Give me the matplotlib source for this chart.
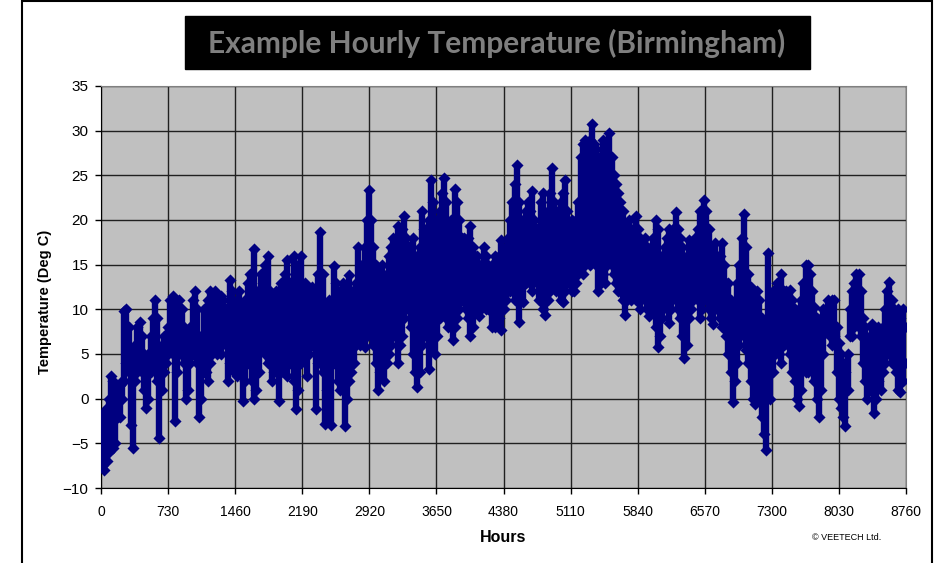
import numpy as np
import matplotlib
matplotlib.use("Agg")
import matplotlib.pyplot as plt
from matplotlib.patches import Rectangle

# daily low / high temperatures (deg C), day 0 .. 364
day_low = [
    -7.5, -8, -7, -6, -3, -5.5, -5, -2, -2, 0,
    2, 4, 3, -3, -5.5, 2, 3, 4, 3, 1,
    -1, 0, 3, 4, 5, 2, -4.4, 1, 3, 4,
    5, 6, 5, -2.5, 3, 5, 6, 4, 0, 1,
    4, 5, 6, 4, -2, 0, 3, 3, 2, 4,
    5, 6, 5, 6, 5, 7, 6, 2, 4, 6,
    3, 2.5, 5, 3, -0.3, 2, 4, 6, 2, 0,
    1, 3, 6, 7, 5, 4, 6, 2, 3, 5,
    -0.3, 3, 6, 5, 2.5, 4, 7, 2, -1.2, 1,
    4, 6, 5, 2.5, 5, 6, 7, -1.2, 4, 5,
    3, -2.8, 1, 2, -3, 4, 5, 2, 1, 3,
    -3.1, 0, 2, 3, 4, 6, 7, 6, 8, 5.8,
    7, 9, 8, 6, 4, 1, 3, 5, 2, 4,
    5, 6, 7, 8, 4, 6, 7, 9, 10, 10,
    8, 5, 3, 1.3, 3, 6, 8, 7, 3.3, 6,
    8, 5, 7, 9, 10, 11, 9, 8, 9, 6.6,
    8, 9, 10, 11, 12, 10, 9, 7, 8, 10,
    10, 9.2, 10, 11, 10, 10, 10, 8, 8, 9,
    9, 7.7, 10, 11, 12, 12, 13, 11, 12, 8.6,
    11, 10.8, 13, 14, 13, 12, 14, 13, 11, 12,
    10, 9.4, 11, 12, 14, 13, 12, 13, 11, 10.8,
    12, 13, 14, 12, 12, 13, 14, 15, 14, 15,
    16, 15, 17, 16, 15, 12, 13, 14, 13, 15,
    16, 15, 14, 13, 12, 12, 11, 9.4, 11, 12,
    11, 12, 11, 12, 10, 12, 11, 10, 9.2, 11,
    10, 8, 5.8, 7, 9, 11, 10, 8.5, 10, 12,
    11, 10, 9, 7, 4.5, 6, 9, 10, 11, 12,
    11, 9, 10, 12, 11, 10, 9, 8.4, 10, 11,
    9, 8, 10, 7, 5, 3, -0.4, 2, 4, 6,
    8, 7, 5.4, 4, 2, 0, -0.6, 1, 0, -2,
    -4, -5.7, 3, 0, 3, 5, 6, 5, 4, 6,
    7, 6, 5, 3, 2, 0, -0.8, 1, 5, 3,
    3, 5, 4, 2, 0, -2, 1, 5, 7.5, 8,
    7, 6, 7, 3, 0, -1, -2, -3.1, 1, 7,
    7, 8, 9, 8, 7, 4, 2, 0, 1, 3,
    -1.6, 0, 2, 1, 3, 4, 5, 6, 4, 5,
    3, 1, 0.8, 2, 4,
]
day_high = [
    -2, -1.5, -1, 0, 2.5, 2, 1, 1, 1.5, 2,
    9.8, 10, 8, 5, 3, 6, 8, 8.6, 7, 5,
    4, 5, 7, 9, 11, 9, 5, 6, 7, 6,
    8, 11, 11.5, 7, 10, 11, 10, 8, 5, 6,
    8, 11, 12, 10, 6, 7, 10, 10, 11, 12,
    11, 12, 11, 10, 11.5, 11, 10, 9, 13.3, 12,
    10, 11, 12, 10, 8, 11, 13, 14, 12, 16.8,
    12, 10, 14, 13, 15, 16, 12, 9, 11, 12,
    8, 12.9, 13, 14, 15.5, 13, 12, 16, 10, 15,
    16, 12, 12.9, 11, 12, 12.5, 11, 10, 14, 18.7,
    14, 9, 8, 11, 8, 14.8, 13, 12, 11, 13,
    8, 10, 13.8, 12, 11, 13, 17, 15, 14, 17,
    20, 23.4, 20, 17, 15, 12, 14, 15, 13, 14,
    16, 17, 18, 17, 19.3, 18, 19, 20.4, 18, 17,
    15, 18, 16, 12, 17, 21, 19, 18, 20, 24.5,
    22, 18, 20, 21, 23, 24.7, 22, 18, 20, 17,
    23.5, 22, 20, 18, 18, 17, 18, 19.3, 17, 16,
    16, 15, 15, 17, 16, 15, 14, 15, 16, 15,
    16, 17.8, 16, 17, 18, 20, 22, 24, 26.2, 22,
    20, 19, 21, 22, 21, 23.2, 20, 19, 18, 22,
    23, 19, 21, 23, 25.8, 22, 21, 20, 22, 23,
    24.5, 21, 18, 20, 19, 20, 22, 27, 28.5, 29,
    28, 29, 30.8, 28.5, 28, 27, 25, 29, 28.6, 27,
    29.7, 27, 25, 24, 23, 22, 21, 19, 19, 20,
    19, 18, 20.4, 19, 18, 17, 18, 17, 16, 17,
    18, 20, 19, 16, 15, 17, 18, 19, 18, 19,
    20.9, 19, 18, 17, 15, 16, 17.8, 17, 16, 18,
    19, 21, 20, 22.2, 21, 19, 17, 16, 17.4, 16,
    16, 17.4, 15, 13, 12.9, 11, 9, 10, 13, 15,
    18, 20.7, 17, 14, 12.5, 11, 10, 12, 11, 9,
    8, 7, 16.3, 10, 12, 11, 13, 12, 14, 12,
    12, 11, 12.2, 11, 10, 9, 10, 11, 13, 15,
    15, 14, 12, 10.3, 9, 8, 9, 10, 10, 11,
    10, 11, 11, 8, 6.2, 5, 4, 3, 5, 10,
    12, 13, 14, 14, 12, 9, 8, 6, 7, 8.4,
    5, 7, 8, 7, 8, 10, 12, 13.1, 11, 10,
    9, 10, 9, 10, 8,
]

x_ticks = [0, 730, 1460, 2190, 2920, 3650, 4380, 5110, 5840, 6570, 7300, 8030, 8760]
y_ticks = [-10, -5, 0, 5, 10, 15, 20, 25, 30, 35]

low = np.array(day_low)
high = np.array(day_high)
hour = np.arange(len(low)) * 24 + 12

W, H = 934, 563
fig = plt.figure(figsize=(W / 100, H / 100), dpi=100)
sans = ['Liberation Sans', 'DejaVu Sans']

# outer chart frame
fig.patches.append(Rectangle((22 / W, -0.01), 910 / W, 1.008, transform=fig.transFigure,
                             fill=False, edgecolor='black', linewidth=1.5))

# title box
fig.patches.append(Rectangle((185 / W, 1 - 69 / H), 625 / W, 53 / H, transform=fig.transFigure,
                             facecolor='black', edgecolor='black'))
fig.text(497 / W, 1 - 43 / H, 'Example Hourly Temperature (Birmingham)', ha='center', va='center',
         color='#7f7f7f', fontsize=21.5, fontweight='bold', family=['Lato', 'DejaVu Sans'])

ax = fig.add_axes([101 / W, 1 - 488 / H, 805 / W, 402 / H])
ax.set_facecolor('#c0c0c0')

ax.vlines(hour, low, high, color='#000080', linewidth=4.6, zorder=3)
ax.scatter(hour, low, marker='D', s=38, color='#000080', linewidths=0, zorder=4)
ax.scatter(hour, high, marker='D', s=38, color='#000080', linewidths=0, zorder=4)

ax.set_xlim(0, 8760)
ax.set_ylim(-10, 35)
ax.set_xticks(x_ticks)
ax.set_yticks(y_ticks)
ax.grid(True, color='#202020', linewidth=1.0)
ax.set_axisbelow(True)

for s in ['top', 'right']:
    ax.spines[s].set_color('#808080')
for s in ['left', 'bottom']:
    ax.spines[s].set_color('black')
ax.tick_params(direction='out', length=4, width=1, colors='black')
ax.tick_params(axis='y', pad=5, labelsize=11)
ax.tick_params(axis='x', pad=8, labelsize=10)
for lab in ax.get_xticklabels() + ax.get_yticklabels():
    lab.set_family(sans)

fig.text(45 / W, 1 - 302 / H, 'Temperature (Deg C)', rotation=90, ha='center', va='center',
         fontsize=10.5, fontweight='bold', family=sans)
fig.text(503 / W, 1 - 537 / H, 'Hours', ha='center', va='center',
         fontsize=11.5, fontweight='bold', family=sans)
fig.text(847 / W, 1 - 537 / H, '\u00a9 VEETECH Ltd.', ha='center', va='center',
         fontsize=6.5, family=sans)

fig.savefig('out.png', dpi=100)
